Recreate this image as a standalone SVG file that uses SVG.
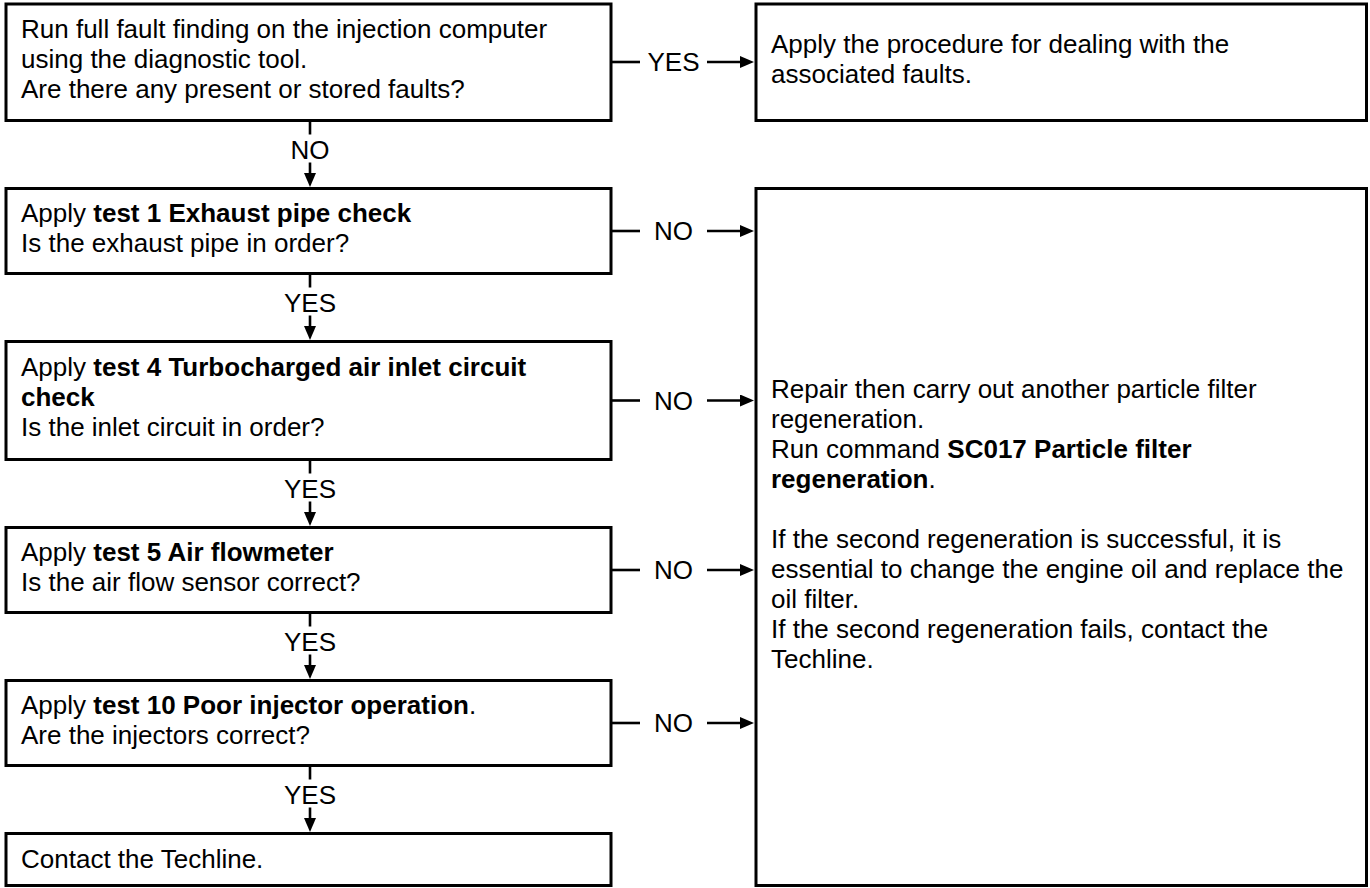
<svg xmlns="http://www.w3.org/2000/svg" width="1370" height="888" viewBox="0 0 1370 888">
<defs>
<style>
.box{fill:#fff;stroke:#000;stroke-width:3}
.ln{stroke:#000;stroke-width:2.6;fill:none}
.ar{stroke:#000;stroke-width:2.6;fill:none;marker-end:url(#ah)}
text{font-family:"Liberation Sans",Arial,Helvetica,sans-serif;font-size:26px;fill:#000}
.b{font-weight:bold}
.c{text-anchor:middle}
</style>
<marker id="ah" markerUnits="userSpaceOnUse" markerWidth="14" markerHeight="12" refX="1" refY="6" orient="auto">
<path d="M0,0 L14,6 L0,12 z" fill="#000"/>
</marker>
</defs>
<rect width="1370" height="888" fill="#fff"/>

<g id="connectors">
<!-- YES to right top -->
<line class="ln" x1="612" y1="62" x2="640" y2="62"/>
<text class="c" x="673.5" y="71.3">YES</text>
<line class="ar" x1="707" y1="62" x2="741" y2="62"/>
<!-- NO horizontals -->
<line class="ln" x1="612" y1="231" x2="640" y2="231"/>
<text class="c" x="673.5" y="240.3">NO</text>
<line class="ar" x1="707" y1="231" x2="741" y2="231"/>
<line class="ln" x1="612" y1="400.5" x2="640" y2="400.5"/>
<text class="c" x="673.5" y="409.8">NO</text>
<line class="ar" x1="707" y1="400.5" x2="741" y2="400.5"/>
<line class="ln" x1="612" y1="570" x2="640" y2="570"/>
<text class="c" x="673.5" y="579.3">NO</text>
<line class="ar" x1="707" y1="570" x2="741" y2="570"/>
<line class="ln" x1="612" y1="723" x2="640" y2="723"/>
<text class="c" x="673.5" y="732.3">NO</text>
<line class="ar" x1="707" y1="723" x2="741" y2="723"/>
<!-- verticals -->
<line class="ln" x1="310" y1="120.5" x2="310" y2="134.5"/>
<text class="c" x="310" y="158.5">NO</text>
<line class="ar" x1="310" y1="162.5" x2="310" y2="174"/>
<line class="ln" x1="310" y1="273.5" x2="310" y2="287.5"/>
<text class="c" x="310" y="311.5">YES</text>
<line class="ar" x1="310" y1="315.5" x2="310" y2="327"/>
<line class="ln" x1="310" y1="459.5" x2="310" y2="473.5"/>
<text class="c" x="310" y="497.5">YES</text>
<line class="ar" x1="310" y1="501.5" x2="310" y2="513"/>
<line class="ln" x1="310" y1="612.5" x2="310" y2="626.5"/>
<text class="c" x="310" y="650.5">YES</text>
<line class="ar" x1="310" y1="654.5" x2="310" y2="666"/>
<line class="ln" x1="310" y1="765.5" x2="310" y2="779.5"/>
<text class="c" x="310" y="803.5">YES</text>
<line class="ar" x1="310" y1="807.5" x2="310" y2="819"/>
</g>

<g id="n1">
<rect class="box" x="6" y="4" width="605" height="116.5"/>
<text x="21" y="38">Run full fault finding on the injection computer</text>
<text x="21" y="68">using the diagnostic tool.</text>
<text x="21" y="98">Are there any present or stored faults?</text>
</g>
<g id="n2">
<rect class="box" x="756" y="4" width="610.5" height="116.5"/>
<text x="771" y="53">Apply the procedure for dealing with the</text>
<text x="771" y="83">associated faults.</text>
</g>
<g id="n3">
<rect class="box" x="6" y="188.5" width="605" height="85"/>
<text x="21" y="222">Apply <tspan class="b">test 1 Exhaust pipe check</tspan></text>
<text x="21" y="252">Is the exhaust pipe in order?</text>
</g>
<g id="n4">
<rect class="box" x="6" y="341.5" width="605" height="118"/>
<text x="21" y="376">Apply <tspan class="b">test 4 Turbocharged air inlet circuit</tspan></text>
<text x="21" y="406" class="b">check</text>
<text x="21" y="436">Is the inlet circuit in order?</text>
</g>
<g id="n5">
<rect class="box" x="6" y="527.5" width="605" height="85"/>
<text x="21" y="561">Apply <tspan class="b">test 5 Air flowmeter</tspan></text>
<text x="21" y="591">Is the air flow sensor correct?</text>
</g>
<g id="n6">
<rect class="box" x="6" y="680.5" width="605" height="85"/>
<text x="21" y="714">Apply <tspan class="b">test 10 Poor injector operation</tspan>.</text>
<text x="21" y="744">Are the injectors correct?</text>
</g>
<g id="n7">
<rect class="box" x="6" y="833.5" width="605" height="52"/>
<text x="21" y="868">Contact the Techline.</text>
</g>
<g id="n8">
<rect class="box" x="756" y="188.5" width="610.5" height="697"/>
<text x="771" y="398">Repair then carry out another particle filter</text>
<text x="771" y="428">regeneration.</text>
<text x="771" y="458">Run command <tspan class="b">SC017 Particle filter</tspan></text>
<text x="771" y="488"><tspan class="b">regeneration</tspan>.</text>
<text x="771" y="548">If the second regeneration is successful, it is</text>
<text x="771" y="578">essential to change the engine oil and replace the</text>
<text x="771" y="608">oil filter.</text>
<text x="771" y="638">If the second regeneration fails, contact the</text>
<text x="771" y="668">Techline.</text>
</g>
</svg>
